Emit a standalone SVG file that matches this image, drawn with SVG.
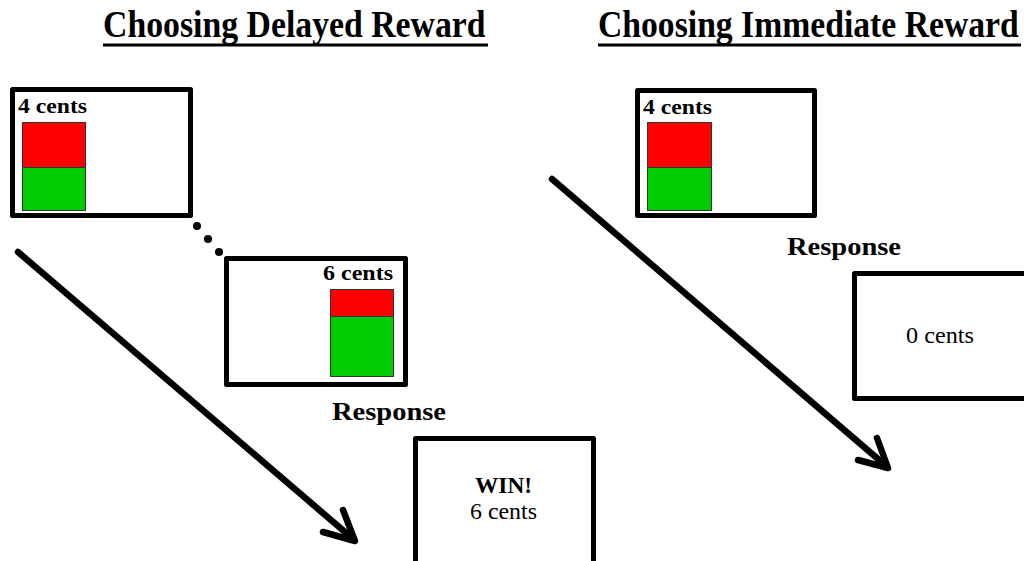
<svg xmlns="http://www.w3.org/2000/svg" width="1024" height="561" viewBox="0 0 1024 561">
<style>
.title{font-family:"Liberation Serif","Times New Roman",serif;font-weight:bold;font-size:37px;fill:#000}
.lbl{font-family:"Liberation Serif","Times New Roman",serif;font-weight:bold;font-size:22px;fill:#000}
.win{font-family:"Liberation Serif","Times New Roman",serif;font-weight:bold;font-size:24px;fill:#000}
.resp{font-family:"Liberation Serif","Times New Roman",serif;font-weight:bold;font-size:25px;fill:#000}
.plain{font-family:"Liberation Serif","Times New Roman",serif;font-size:22.5px;fill:#000}
.box{fill:#fff;stroke:#000;stroke-width:5;stroke-linejoin:round}
.red{fill:#ff0000;stroke:#333;stroke-width:1}
.green{fill:#00cc00;stroke:#333;stroke-width:1}
.ul{stroke:#000;stroke-width:3}
.conn{fill:none;stroke:#000;stroke-width:6.5;stroke-linecap:round;stroke-linejoin:round}
</style>
<rect width="1024" height="561" fill="#fff"/>
<g id="titles">
<text class="title" transform="translate(103,37) scale(0.913,1)" x="0" y="0">Choosing Delayed Reward</text>
<line class="ul" x1="103" y1="45" x2="488" y2="45"/>
<text class="title" transform="translate(598,37) scale(0.91,1)" x="0" y="0">Choosing Immediate Reward</text>
<line class="ul" x1="598" y1="45" x2="1021" y2="45"/>
</g>
<g id="connectors">
<circle cx="197" cy="226" r="4" fill="#000"/>
<circle cx="208" cy="239" r="4" fill="#000"/>
<circle cx="219" cy="252" r="4" fill="#000"/>
<path class="conn" d="M18,252 L352,538"/>
<path class="conn" d="M343,510 L355,541 L323,532"/>
<path class="conn" d="M552,179 L885,465"/>
<path class="conn" d="M877,438 L888,468 L858,460"/>
</g>
<g id="delayed-offer">
<rect class="box" x="12.5" y="89.5" width="178" height="126"/>
<text class="lbl" x="18" y="113" textLength="69" lengthAdjust="spacingAndGlyphs">4 cents</text>
<rect class="red" x="22.5" y="122.5" width="63" height="45"/>
<rect class="green" x="22.5" y="167.5" width="63" height="43"/>
</g>
<g id="delayed-later">
<rect class="box" x="226.5" y="258.5" width="179" height="126"/>
<text class="lbl" x="393" y="280" text-anchor="end" textLength="70" lengthAdjust="spacingAndGlyphs">6 cents</text>
<rect class="red" x="330.5" y="289.5" width="63" height="27"/>
<rect class="green" x="330.5" y="316.5" width="63" height="60"/>
</g>
<g id="delayed-response">
<text class="resp" x="332" y="420" textLength="114" lengthAdjust="spacingAndGlyphs">Response</text>
</g>
<g id="delayed-outcome">
<rect class="box" x="415.5" y="438.5" width="178" height="140"/>
<text class="win" x="503.5" y="493" text-anchor="middle" textLength="57" lengthAdjust="spacingAndGlyphs">WIN!</text>
<text class="plain" x="503.5" y="519" text-anchor="middle" textLength="67" lengthAdjust="spacingAndGlyphs">6 cents</text>
</g>
<g id="immediate-offer">
<rect class="box" x="637.5" y="90.5" width="177" height="125"/>
<text class="lbl" x="643" y="114" textLength="69" lengthAdjust="spacingAndGlyphs">4 cents</text>
<rect class="red" x="647.5" y="122.5" width="64" height="45"/>
<rect class="green" x="647.5" y="167.5" width="64" height="43"/>
</g>
<g id="immediate-response">
<text class="resp" x="787" y="255" textLength="114" lengthAdjust="spacingAndGlyphs">Response</text>
</g>
<g id="immediate-outcome">
<rect class="box" x="854.5" y="273.5" width="190" height="125"/>
<text class="plain" x="940" y="343" text-anchor="middle" textLength="68" lengthAdjust="spacingAndGlyphs">0 cents</text>
</g>
</svg>
